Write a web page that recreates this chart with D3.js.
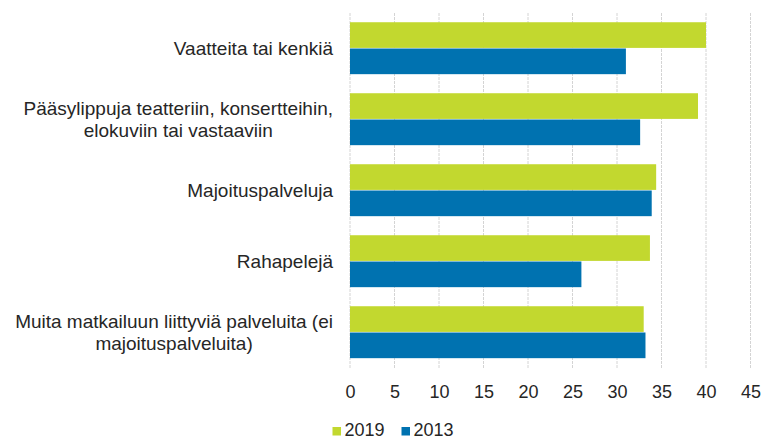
<!DOCTYPE html>
<html>
<head>
<meta charset="utf-8">
<script src="https://cdn.jsdelivr.net/npm/d3@7"></script>
<style>
  html, body { margin: 0; padding: 0; background: #fff; }
  svg { display: block; }
  text { font-family: "Liberation Sans", Arial, sans-serif; fill: #262626; }
</style>
</head>
<body>
<svg id="chart" width="763" height="439"></svg>
<script>
const categories = [
  "Vaatteita tai kenkiä",
  "Pääsylippuja teatteriin, konsertteihin, elokuviin tai vastaaviin",
  "Majoituspalveluja",
  "Rahapelejä",
  "Muita matkailuun liittyviä palveluita (ei majoituspalveluita)"
];
const categoryLines = [
  ["Vaatteita tai kenkiä"],
  ["Pääsylippuja teatteriin, konsertteihin,", "elokuviin tai vastaaviin"],
  ["Majoituspalveluja"],
  ["Rahapelejä"],
  ["Muita matkailuun liittyviä palveluita (ei", "majoituspalveluita)"]
];
const seriesNames = ["2019", "2013"];
const values2019 = [40.0, 39.1, 34.4, 33.7, 33.0];
const values2013 = [31.0, 32.6, 33.9, 26.0, 33.2];
const xTicks = [0, 5, 10, 15, 20, 25, 30, 35, 40, 45];
const colors = ["#c2d82f", "#0072b0"];

(function () {
const svg = d3.select("#chart");
const pLeft = 350, pRight = 750.5, pTop = 13, pBottom = 368;

const x = d3.scaleLinear().domain([0, 45]).range([pLeft, pRight]);
const y0 = d3.scaleBand().domain(categories).range([pTop, pBottom])
  .paddingInner(0.26).paddingOuter(0.13);
const y1 = d3.scaleBand().domain(seriesNames).range([0, y0.bandwidth()]).padding(0);

// gridlines
svg.append("g")
  .selectAll("line")
  .data(xTicks)
  .join("line")
  .attr("x1", d => x(d)).attr("x2", d => x(d))
  .attr("y1", pTop).attr("y2", pBottom)
  .attr("stroke", "#d4d4d4")
  .attr("stroke-width", 1)
  .attr("stroke-dasharray", "3,1");

// bars
const series = [values2019, values2013];
const groups = svg.append("g").selectAll("g")
  .data(categories)
  .join("g")
  .attr("transform", d => `translate(0,${y0(d)})`);

groups.selectAll("rect")
  .data((d, i) => seriesNames.map((s, j) => ({ s, v: series[j][i], j })))
  .join("rect")
  .attr("x", x(0))
  .attr("y", d => y1(d.s))
  .attr("width", d => x(d.v) - x(0))
  .attr("height", y1.bandwidth() - 0.6)
  .attr("fill", d => colors[d.j]);

// x axis labels
const xAxis = d3.axisBottom(x).tickValues(xTicks).tickSize(0).tickPadding(0);
const ax = svg.append("g").attr("transform", `translate(0,${pBottom})`).call(xAxis);
ax.select(".domain").remove();
ax.selectAll("text")
  .attr("dy", null)
  .attr("y", 29.5)
  .style("font-size", "18px")
  .style("font-family", "'Liberation Sans', Arial, sans-serif")
  .attr("fill", "#262626");

// category labels
const labelRight = 333;
const lineH = 22.3;
categories.forEach((c, i) => {
  const lines = categoryLines[i];
  const cy = y0(c) + y0.bandwidth() / 2;
  const t = svg.append("text")
    .attr("text-anchor", "middle")
    .style("font-size", "19px");
  const tspans = lines.map((ln, k) => t.append("tspan")
    .attr("y", cy + (k - (lines.length - 1) / 2) * lineH)
    .attr("dy", "0.35em")
    .text(ln));
  let maxW = 0;
  tspans.forEach(ts => { maxW = Math.max(maxW, ts.node().getComputedTextLength()); });
  tspans.forEach(ts => ts.attr("x", labelRight - maxW / 2));
});

// legend
const legend = svg.append("g");
const legX = [332.5, 401.5];
seriesNames.forEach((s, j) => {
  legend.append("rect")
    .attr("x", legX[j]).attr("y", 427)
    .attr("width", 8.5).attr("height", 8.5)
    .attr("fill", colors[j]);
  legend.append("text")
    .attr("x", legX[j] + 12).attr("y", 435.5)
    .style("font-size", "18px")
    .text(s);
});
})();
</script>
</body>
</html>
